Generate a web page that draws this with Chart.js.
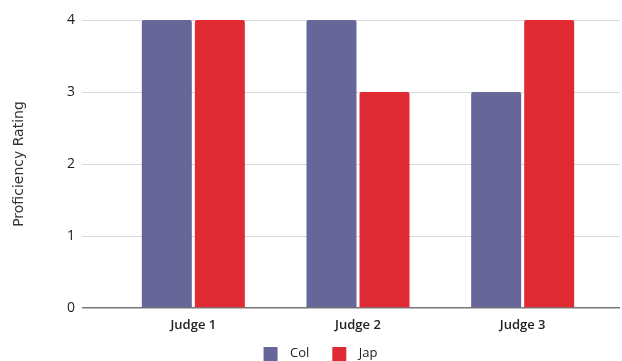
<!DOCTYPE html>
<html>
<head>
<meta charset="utf-8">
<script src="https://cdn.jsdelivr.net/npm/chart.js@4"></script>
<style>
  html, body { margin: 0; padding: 0; background: #fff; }
  #wrap { width: 622px; height: 361px; }
</style>
</head>
<body>
<div id="wrap"><canvas id="c" width="622" height="361"></canvas></div>
<script>
const categories = ['Judge 1', 'Judge 2', 'Judge 3'];
const colValues = [4, 4, 3];
const japValues = [4, 3, 4];
const yTicks = [0, 1, 2, 3, 4];
const seriesNames = ['Col', 'Jap'];
const seriesColors = ['#666699', '#e02b35'];

const SWATCH_W = 41;
function legendSwatch(color) {
  const cv = document.createElement('canvas');
  cv.width = SWATCH_W; cv.height = 14;
  const g = cv.getContext('2d');
  g.fillStyle = color;
  g.fillRect(SWATCH_W - 20, 0, 14, 14);
  return cv;
}

const FONT = '"Open Sans", "Liberation Sans", sans-serif';

new Chart(document.getElementById('c'), {
  type: 'bar',
  data: {
    labels: categories,
    datasets: [
      { label: seriesNames[0], data: colValues, backgroundColor: seriesColors[0], pointStyle: legendSwatch(seriesColors[0]) },
      { label: seriesNames[1], data: japValues, backgroundColor: seriesColors[1], pointStyle: legendSwatch(seriesColors[1]) }
    ]
  },
  options: {
    responsive: false,
    animation: false,
    devicePixelRatio: 1,
    layout: { padding: { top: 20, right: 2, left: 0, bottom: 0 } },
    datasets: {
      bar: { categoryPercentage: 0.644, barPercentage: 0.943, borderRadius: { topLeft: 2, topRight: 2 }, borderSkipped: 'bottom' }
    },
    plugins: {
      legend: {
        position: 'bottom',
        maxHeight: 16,
        labels: {
          usePointStyle: true,
          pointStyleWidth: SWATCH_W,
          boxHeight: 14,
          padding: 2,
          color: '#222',
          font: { family: FONT, size: 13 }
        }
      },
      tooltip: { enabled: false }
    },
    scales: {
      x: {
        grid: { display: false },
        border: { display: false },
        ticks: { color: '#222', padding: 1, font: { family: FONT, size: 13, weight: '600' } },
        afterFit: (s) => { s.height = 37; }
      },
      y: {
        min: 0, max: 4,
        afterBuildTicks: (s) => { s.ticks = yTicks.map(v => ({ value: v })); },
        border: { display: false },
        grid: {
          color: (ctx) => ctx.tick && ctx.tick.value === 0 ? '#777777' : '#d9d9d9',
          lineWidth: (ctx) => ctx.tick && ctx.tick.value === 0 ? 1.5 : 1,
          drawTicks: true,
          tickLength: 29
        },
        ticks: { color: '#222', padding: 7, font: { family: FONT, size: 14 } },
        title: {
          display: true,
          text: 'Proficiency Rating',
          color: '#333',
          padding: { top: 11, bottom: 0 },
          font: { family: '"DejaVu Sans", sans-serif', size: 14 }
        },
        afterFit: (s) => { s.width = 111; }
      },
      y2: {
        position: 'right',
        min: 0, max: 4,
        afterBuildTicks: (s) => { s.ticks = yTicks.map(v => ({ value: v })); },
        border: { display: false },
        grid: {
          drawOnChartArea: false,
          color: (ctx) => ctx.tick && ctx.tick.value === 0 ? '#777777' : '#d9d9d9',
          lineWidth: (ctx) => ctx.tick && ctx.tick.value === 0 ? 1.5 : 1,
          drawTicks: true,
          tickLength: 15
        },
        ticks: { display: false },
        afterFit: (s) => { s.width = 15; }
      }
    }
  }
});
</script>
</body>
</html>
